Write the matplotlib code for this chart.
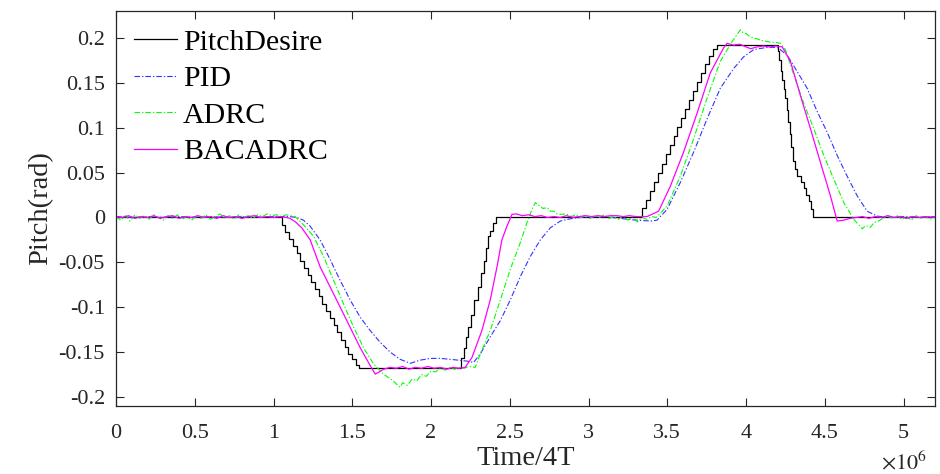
import matplotlib
matplotlib.use('Agg')
import matplotlib.pyplot as plt
import numpy as np

plt.rcParams['font.family'] = ['Liberation Serif', 'DejaVu Serif']
plt.rcParams['mathtext.fontset'] = 'stix'

# time in units of 1e6 (Time/4T), pitch in rad

# desired pitch, staircase (value holds from t until next t)
desire = [
    (0.000, 0.0),
    (1.053, -0.008), (1.076, -0.016), (1.100, -0.024), (1.123, -0.032), (1.147, -0.040),
    (1.170, -0.048), (1.194, -0.056), (1.217, -0.064), (1.241, -0.072), (1.264, -0.080),
    (1.288, -0.088), (1.311, -0.096), (1.335, -0.104), (1.358, -0.112), (1.382, -0.120),
    (1.405, -0.128), (1.429, -0.136), (1.452, -0.144), (1.476, -0.152), (1.499, -0.158),
    (1.523, -0.164), (1.546, -0.168),
    (2.190, -0.156), (2.207, -0.145), (2.222, -0.133), (2.234, -0.122), (2.253, -0.109),
    (2.270, -0.092), (2.296, -0.077), (2.317, -0.062), (2.334, -0.049), (2.346, -0.034),
    (2.359, -0.021), (2.376, -0.015), (2.393, -0.006), (2.414, 0.0),
    (3.340, 0.010), (3.365, 0.020), (3.390, 0.030), (3.415, 0.040), (3.440, 0.050),
    (3.465, 0.060), (3.490, 0.071), (3.515, 0.081), (3.540, 0.091), (3.565, 0.101),
    (3.590, 0.111), (3.615, 0.121), (3.640, 0.131), (3.665, 0.141), (3.690, 0.151),
    (3.715, 0.161), (3.740, 0.171), (3.765, 0.180), (3.790, 0.188), (3.816, 0.1925),
    (4.204, 0.185), (4.212, 0.175), (4.220, 0.163), (4.230, 0.153), (4.240, 0.143),
    (4.250, 0.133), (4.260, 0.120), (4.269, 0.106), (4.278, 0.093), (4.288, 0.078),
    (4.297, 0.063), (4.311, 0.054), (4.325, 0.046), (4.346, 0.040), (4.367, 0.033),
    (4.383, 0.025), (4.398, 0.018), (4.412, 0.009), (4.426, 0.0),
    (5.200, 0.0),
]

pid = [
    (0.0, 0.001), (0.1, 0.000), (0.2, 0.001), (0.3, 0.000), (0.4, 0.001), (0.5, 0.000),
    (0.6, 0.001), (0.7, 0.000), (0.8, 0.001), (0.9, 0.000), (1.0, 0.001), (1.1, 0.001),
    (1.148, 0.000), (1.190, -0.003), (1.233, -0.0098), (1.296, -0.025), (1.360, -0.047),
    (1.423, -0.070), (1.487, -0.092), (1.550, -0.111), (1.614, -0.126), (1.677, -0.139),
    (1.741, -0.150), (1.804, -0.158), (1.868, -0.1625), (1.93, -0.159), (1.995, -0.157),
    (2.06, -0.157), (2.122, -0.158), (2.228, -0.160), (2.270, -0.1615), (2.313, -0.152),
    (2.376, -0.133), (2.440, -0.115), (2.503, -0.092), (2.567, -0.066), (2.630, -0.0435),
    (2.694, -0.025), (2.757, -0.0116), (2.821, -0.004), (2.884, -0.0015), (2.948, 0.000),
    (3.0, 0.000), (3.1, 0.001), (3.2, -0.001), (3.3, -0.003), (3.4, -0.004), (3.435, -0.003),
    (3.499, 0.009), (3.583, 0.039), (3.668, 0.073), (3.753, 0.110), (3.837, 0.144),
    (3.922, 0.166), (3.985, 0.179), (4.049, 0.187), (4.134, 0.1895), (4.198, 0.1895),
    (4.261, 0.181), (4.325, 0.1625), (4.388, 0.144), (4.452, 0.118), (4.515, 0.095),
    (4.579, 0.069), (4.642, 0.046), (4.706, 0.024), (4.769, 0.007), (4.833, 0.0015),
    (4.917, 0.000), (5.0, 0.001), (5.1, 0.000), (5.2, 0.001),
]

adrc = [
    (0.00, 0.001), (0.03, -0.003), (0.06, 0.002), (0.09, -0.004), (0.12, 0.003), (0.15, -0.001),
    (0.18, 0.002), (0.21, -0.002), (0.24, 0.003), (0.27, 0.000), (0.30, -0.003), (0.33, 0.002),
    (0.36, -0.001), (0.39, 0.003), (0.42, -0.002), (0.45, 0.001), (0.48, -0.003), (0.51, 0.002),
    (0.54, -0.001), (0.57, 0.003), (0.60, -0.002), (0.63, 0.001), (0.66, 0.004), (0.69, -0.001),
    (0.72, 0.002), (0.75, -0.002), (0.78, 0.003), (0.81, 0.000), (0.84, 0.002), (0.87, -0.001),
    (0.90, 0.003), (0.93, 0.001), (0.96, 0.004), (0.99, 0.002), (1.02, 0.003), (1.05, 0.001),
    (1.08, 0.003), (1.11, 0.002), (1.137, 0.001), (1.190, -0.008), (1.254, -0.021),
    (1.317, -0.043), (1.381, -0.070), (1.444, -0.096), (1.508, -0.122), (1.571, -0.145),
    (1.635, -0.163), (1.698, -0.1745), (1.760, -0.182), (1.783, -0.186), (1.804, -0.189),
    (1.82, -0.184), (1.85, -0.187), (1.88, -0.180), (1.91, -0.182), (1.94, -0.175),
    (1.97, -0.177), (2.00, -0.171), (2.03, -0.172), (2.06, -0.168), (2.09, -0.170),
    (2.12, -0.167), (2.15, -0.169), (2.18, -0.167), (2.21, -0.168), (2.24, -0.166),
    (2.281, -0.167), (2.313, -0.152), (2.376, -0.126), (2.440, -0.092), (2.503, -0.058),
    (2.567, -0.028), (2.609, -0.006), (2.641, 0.009), (2.662, 0.0165), (2.68, 0.014),
    (2.694, 0.0127), (2.71, 0.010), (2.74, 0.011), (2.757, 0.007), (2.78, 0.007),
    (2.80, 0.004), (2.821, 0.0034), (2.86, 0.004), (2.89, 0.001), (2.92, 0.003), (2.95, 0.000),
    (2.98, 0.002), (3.01, -0.001), (3.04, 0.002), (3.07, 0.000), (3.10, 0.003), (3.13, -0.001),
    (3.16, 0.001), (3.19, -0.002), (3.22, 0.002), (3.25, -0.003), (3.28, 0.001), (3.31, -0.005),
    (3.34, 0.000), (3.37, -0.002), (3.40, 0.001), (3.43, 0.000), (3.499, 0.0127),
    (3.583, 0.046), (3.668, 0.088), (3.753, 0.133), (3.837, 0.174), (3.912, 0.196),
    (3.964, 0.209), (3.98, 0.206), (4.00, 0.205), (4.02, 0.202), (4.049, 0.200), (4.07, 0.199),
    (4.10, 0.197), (4.134, 0.196), (4.16, 0.195), (4.19, 0.195), (4.219, 0.194), (4.250, 0.187),
    (4.303, 0.159), (4.367, 0.127), (4.430, 0.099), (4.494, 0.069), (4.557, 0.043),
    (4.621, 0.0165), (4.684, -0.002), (4.738, -0.0127), (4.76, -0.009), (4.79, -0.011),
    (4.811, -0.006), (4.84, -0.004), (4.87, -0.001), (4.90, 0.002), (4.93, -0.001),
    (4.96, 0.002), (4.99, -0.002), (5.02, 0.001), (5.05, -0.003), (5.08, 0.002),
    (5.11, -0.001), (5.14, 0.001), (5.17, -0.002), (5.20, 0.001),
]

bacadrc = [
    (0.00, 0.001), (0.04, 0.000), (0.08, 0.002), (0.12, -0.001), (0.16, 0.001), (0.20, 0.000),
    (0.24, 0.002), (0.28, -0.001), (0.32, 0.001), (0.36, 0.002), (0.40, -0.001), (0.44, 0.001),
    (0.48, 0.000), (0.52, 0.002), (0.56, 0.000), (0.60, 0.001), (0.64, -0.001), (0.68, 0.002),
    (0.72, 0.000), (0.76, 0.001), (0.80, -0.001), (0.84, 0.001), (0.88, 0.002), (0.92, 0.000),
    (0.96, 0.001), (1.00, 0.000), (1.04, 0.001), (1.08, 0.000), (1.105, -0.001),
    (1.140, -0.005), (1.180, -0.0116), (1.233, -0.025), (1.296, -0.055), (1.381, -0.085),
    (1.466, -0.115), (1.550, -0.145), (1.614, -0.165), (1.646, -0.1745), (1.677, -0.1715),
    (1.70, -0.169), (1.74, -0.167), (1.78, -0.168), (1.82, -0.166), (1.86, -0.169),
    (1.90, -0.167), (1.94, -0.168), (1.98, -0.166), (2.02, -0.168), (2.06, -0.167),
    (2.10, -0.169), (2.14, -0.167), (2.18, -0.168), (2.217, -0.167), (2.260, -0.156),
    (2.323, -0.126), (2.376, -0.092), (2.419, -0.055), (2.450, -0.025), (2.482, -0.0098),
    (2.514, 0.0034), (2.54, 0.004), (2.58, 0.002), (2.62, 0.003), (2.66, 0.001), (2.70, 0.002),
    (2.74, 0.000), (2.78, 0.001), (2.82, 0.000), (2.86, 0.002), (2.90, 0.000), (2.94, 0.001),
    (2.98, 0.002), (3.02, 0.001), (3.06, 0.002), (3.10, 0.001), (3.14, 0.002), (3.18, 0.002),
    (3.22, 0.001), (3.26, 0.002), (3.30, 0.001), (3.34, 0.001), (3.372, 0.001),
    (3.445, 0.007), (3.520, 0.035), (3.604, 0.073), (3.689, 0.116), (3.773, 0.161),
    (3.858, 0.189), (3.880, 0.194), (3.92, 0.192), (3.96, 0.193), (4.00, 0.190), (4.03, 0.188),
    (4.07, 0.190), (4.11, 0.191), (4.15, 0.190), (4.19, 0.191), (4.23, 0.190), (4.282, 0.174),
    (4.345, 0.136), (4.409, 0.099), (4.473, 0.061), (4.536, 0.024), (4.579, -0.004),
    (4.62, -0.003), (4.66, -0.001), (4.70, 0.000), (4.74, 0.001), (4.78, -0.001), (4.82, 0.001),
    (4.86, 0.000), (4.90, 0.002), (4.94, 0.000), (4.98, 0.001), (5.02, -0.001), (5.06, 0.001),
    (5.10, 0.000), (5.14, 0.001), (5.20, 0.000),
]

xticks = [0, 0.5, 1, 1.5, 2, 2.5, 3, 3.5, 4, 4.5, 5]
xticklabels = ['0', '0.5', '1', '1.5', '2', '2.5', '3', '3.5', '4', '4.5', '5']
yticks = [-0.2, -0.15, -0.1, -0.05, 0, 0.05, 0.1, 0.15, 0.2]
yticklabels = ['-0.2', '-0.15', '-0.1', '-0.05', '0', '0.05', '0.1', '0.15', '0.2']

fig = plt.figure(figsize=(9.4, 4.74), dpi=100)
ax = fig.add_axes([0.1234, 0.1435, 0.8713, 0.8333])

t, v = np.array(desire).T
ax.plot(t, v, color='k', lw=0.9, drawstyle='steps-post', label='PitchDesire')
t, v = np.array(pid).T
ax.plot(t, v, color='#3333ff', lw=0.8, dashes=(5, 1.8, 1.2, 1.8), label='PID')
t, v = np.array(adrc).T
ax.plot(t, v, color='#00ff00', lw=0.8, dashes=(5, 1.8, 1.2, 1.8), label='ADRC')
t, v = np.array(bacadrc).T
ax.plot(t, v, color='#ff00ff', lw=0.9, label='BACADRC')

ax.set_xlim(0, 5.2)
ax.set_ylim(-0.21, 0.23)
ax.set_xticks(xticks)
ax.set_xticklabels(xticklabels)
ax.set_yticks(yticks)
ax.set_yticklabels(yticklabels)
ax.tick_params(direction='in', length=6, width=0.8, top=True, right=True,
               labelsize=16, colors='#262626')
ax.tick_params(axis='x', pad=13)
ax.tick_params(axis='y', pad=8)
for s in ax.spines.values():
    s.set_color('#262626')
    s.set_linewidth(0.9)

ax.set_xlabel('Time/4T', fontsize=20.5, color='#262626', labelpad=2)
ax.set_ylabel('Pitch(rad)', fontsize=20.5, color='#262626', labelpad=4)
fig.text(0.937, 0.0, r'$\times10^{6}$', fontsize=16, color='#262626', va='bottom')

ax.legend(loc='upper left', frameon=False, fontsize=21.5, handlelength=1.45,
          handletextpad=0.2, labelspacing=0.32, borderaxespad=0.2,
          bbox_to_anchor=(0.0, 1.0))

fig.savefig('out.png', dpi=100)
